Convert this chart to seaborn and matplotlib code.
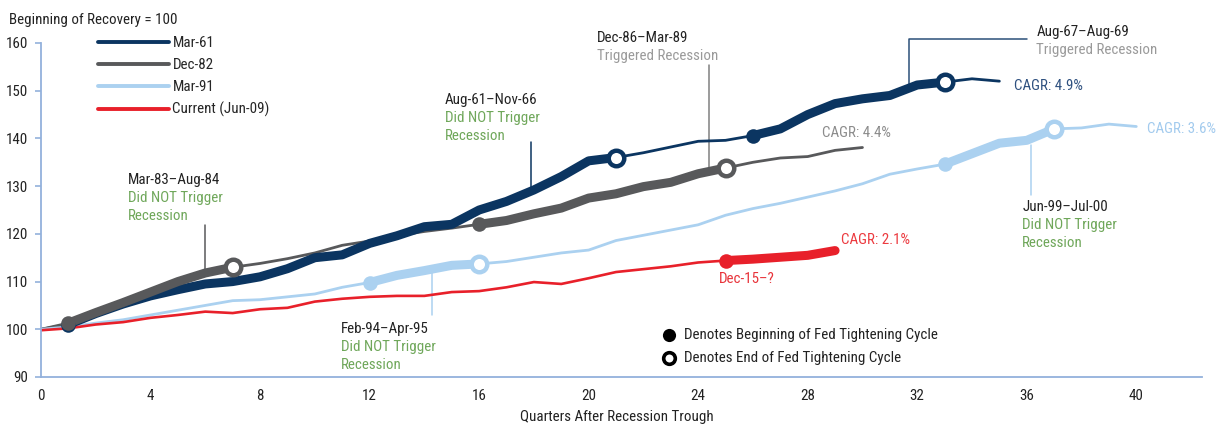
import matplotlib
matplotlib.use("Agg")
import matplotlib.pyplot as plt
from matplotlib import font_manager as fm
import numpy as np
import pandas as pd
import seaborn as sns

# Quarters after recession trough and index levels (Beginning of Recovery = 100)
mar61 = [100, 101, 103.3, 105.3, 107, 108.3, 109.5, 110, 111, 112.7, 115, 115.6,
         118, 119.6, 121.5, 122, 125, 126.8, 129.2, 132, 135.3, 136, 137, 138.2,
         139.4, 139.6, 140.6, 142, 145, 147.3, 148.3, 149, 151.2, 151.8, 152.5, 152]
dec82 = [100, 101.3, 103.5, 105.6, 107.8, 110, 111.8, 113, 113.8, 114.8, 116, 117.6,
         118.5, 119.6, 120.5, 121.2, 122, 122.8, 124.2, 125.4, 127.5, 128.4, 129.9,
         130.8, 132.6, 133.8, 135, 135.9, 136.2, 137.5, 138.1]
mar91 = [100, 100.5, 101.3, 102, 103, 104, 105, 106, 106.2, 106.8, 107.4, 108.8,
         109.8, 111.3, 112.3, 113.4, 113.7, 114.2, 115.1, 116, 116.6, 118.6, 119.7,
         120.8, 121.9, 123.9, 125.3, 126.4, 127.7, 129, 130.5, 132.5, 133.6, 134.6,
         136.8, 139, 139.6, 142, 142.2, 143, 142.5]
current = [99.8, 100.2, 101, 101.5, 102.4, 103, 103.7, 103.4, 104.2, 104.5, 105.8,
           106.4, 106.8, 107, 107, 107.8, 108, 108.8, 109.9, 109.5, 110.7, 112,
           112.6, 113.2, 114, 114.4, 114.7, 115.1, 115.5, 116.5]

series_names = ["Mar-61", "Dec-82", "Mar-91", "Current (Jun-09)"]
series_values = [mar61, dec82, mar91, current]
series_colors = ["#0b3561", "#58595b", "#abd1f0", "#e8202a"]
# Fed tightening cycles (start quarter, end quarter); end None = still running
tightening = [
    [(1, 21), (26, 33)],
    [(1, 7), (16, 25)],
    [(12, 16), (33, 37)],
    [(25, None)],
]

green = "#6fa75a"
grey_txt = "#9a9a9a"
spine_col = "#93b1dc"


def pick_narrow_font():
    # the original uses a condensed face; take one if the machine has it
    cands = [
        ("Liberation Sans Narrow", "normal"),
        ("Roboto Condensed", "normal"),
        ("Noto Sans Condensed", "normal"),
        ("DejaVu Sans Condensed", "normal"),
        ("Noto Sans", "condensed"),
        ("DejaVu Sans", "condensed"),
        ("Open Sans", "condensed"),
        ("Roboto", "condensed"),
    ]
    for fam, st in cands:
        try:
            path = fm.findfont(fm.FontProperties(family=fam, stretch=st),
                               fallback_to_default=False)
        except Exception:
            continue
        low = path.lower()
        if fam.split()[0].lower() in low and ("condensed" in low or "narrow" in low):
            return fam, st
    return None, None


sns.set_theme(style="white")
fam, stretch = pick_narrow_font()
if fam:
    plt.rcParams["font.family"] = [fam, "DejaVu Sans"]
    plt.rcParams["font.stretch"] = stretch
    FS = 10.8
else:
    plt.rcParams["font.family"] = ["DejaVu Sans"]
    FS = 8.6

fig = plt.figure(figsize=(12.23, 4.24), dpi=100)
ax = fig.add_axes([41 / 1223, 47 / 424, 1161 / 1223, 334 / 424])

frames = []
for name, vals in zip(series_names, series_values):
    frames.append(pd.DataFrame({"quarter": np.arange(len(vals)), "value": vals, "series": name}))
df = pd.concat(frames, ignore_index=True)

palette = dict(zip(series_names, series_colors))
thin_lw = {"Mar-61": 2.0, "Dec-82": 2.0, "Mar-91": 2.0, "Current (Jun-09)": 1.9}

# thin full lines
for name in series_names:
    sub = df[df["series"] == name]
    sns.lineplot(data=sub, x="quarter", y="value", color=palette[name],
                 lw=thin_lw[name], ax=ax, label=name, zorder=2)

# thick segments during tightening cycles
for i, name in enumerate(series_names):
    sub = df[df["series"] == name]
    for start, end in tightening[i]:
        stop = sub["quarter"].max() if end is None else end
        seg = sub[(sub["quarter"] >= start) & (sub["quarter"] <= stop)]
        sns.lineplot(data=seg, x="quarter", y="value", color=palette[name],
                     lw=6.5, ax=ax, legend=False, zorder=3,
                     solid_capstyle="round", solid_joinstyle="round")

# begin / end markers
for i, name in enumerate(series_names):
    sub = df[df["series"] == name].set_index("quarter")["value"]
    for start, end in tightening[i]:
        ax.scatter([start], [sub[start]], s=110, color=palette[name], zorder=5, lw=0)
        if end is not None:
            ax.scatter([end], [sub[end]], s=125, facecolor="white",
                       edgecolor=palette[name], lw=3.2, zorder=6)

ax.set_xlim(0, 42.4)
ax.set_ylim(90, 160)
ax.set_xticks(range(0, 41, 4))
ax.set_yticks(range(90, 161, 10))
ax.tick_params(axis="x", length=0, pad=9, labelsize=FS, labelcolor="#222222")
ax.tick_params(axis="y", length=4, width=1.2, color=spine_col, pad=5,
               labelsize=FS, labelcolor="#222222", direction="out", left=True)
for s in ["top", "right"]:
    ax.spines[s].set_visible(False)
for s in ["left", "bottom"]:
    ax.spines[s].set_color(spine_col)
    ax.spines[s].set_linewidth(1.3)
ax.set_xlabel("")
ax.set_ylabel("")
ax.grid(False)

leg = ax.legend(loc="upper left", bbox_to_anchor=(98 / 1223, 1 - 36 / 424),
                bbox_transform=fig.transFigure, frameon=False, fontsize=FS,
                handlelength=4.9 * 10.5 / FS, handletextpad=0.2,
                labelspacing=0.55 * 10.5 / FS, borderpad=0, borderaxespad=0)
for line in leg.get_lines():
    line.set_linewidth(2.8)

fig.text(9 / 1223, 1 - 20 / 424, "Beginning of Recovery = 100", fontsize=FS,
         va="center", ha="left", color="#222222")
fig.text(617 / 1223, 1 - 417 / 424, "Quarters After Recession Trough", fontsize=FS,
         va="center", ha="center", color="#222222")


def note(x, y, head, body, body_col, step=3.8):
    ax.text(x, y, head, fontsize=FS, color="#222222", va="center", ha="left", clip_on=False)
    for k, line in enumerate(body):
        ax.text(x, y - step * (k + 1), line, fontsize=FS, color=body_col,
                va="center", ha="left", clip_on=False)


note(3.18, 131.3, "Mar-83\u2013Aug-84", ["Did NOT Trigger", "Recession"], green)
note(14.74, 148.1, "Aug-61\u2013Nov-66", ["Did NOT Trigger", "Recession"], green)
note(20.3, 161.0, "Dec-86\u2013Mar-89", ["Triggered Recession"], grey_txt)
note(36.35, 162.4, "Aug-67\u2013Aug-69", ["Triggered Recession"], grey_txt)
note(35.84, 125.7, "Jun-99\u2013Jul-00", ["Did NOT Trigger", "Recession"], green)
note(10.95, 100.1, "Feb-94\u2013Apr-95", ["Did NOT Trigger", "Recession"], green)

# connectors from the notes to the lines
ax.plot([6.0, 6.0], [121.8, 112.4], color="#58595b", lw=1.1, zorder=1)
ax.plot([17.9, 17.9], [139.3, 129.2], color="#0b3561", lw=1.1, zorder=1)
ax.plot([24.4, 24.4], [155.4, 133.9], color="#808080", lw=1.1, zorder=1)
ax.plot([31.7, 31.7, 36.0], [151.3, 160.9, 160.9], color="#2b5079", lw=1.1,
        zorder=1, clip_on=False)
ax.plot([36.17, 36.17], [138.7, 128.2], color="#abd1f0", lw=1.1, zorder=1)
ax.plot([14.27, 14.27], [112.9, 103.0], color="#abd1f0", lw=1.1, zorder=1)

ax.text(24.74, 110.6, "Dec-15\u2013?", fontsize=FS, color="#e8333a", va="center")
ax.text(35.55, 151.0, "CAGR: 4.9%", fontsize=FS, color="#2f5180", va="center")
ax.text(28.54, 141.2, "CAGR: 4.4%", fontsize=FS, color="#8c8c8c", va="center")
ax.text(40.4, 142.0, "CAGR: 3.6%", fontsize=FS, color="#a3cbee", va="center",
        clip_on=False)
ax.text(29.2, 118.8, "CAGR: 2.1%", fontsize=FS, color="#ec3b40", va="center")

# marker key
ax.scatter([22.95], [98.9], s=90, color="black", zorder=5, lw=0)
ax.scatter([22.95], [93.9], s=70, facecolor="white", edgecolor="black", lw=2.6, zorder=5)
ax.text(23.5, 98.9, "Denotes Beginning of Fed Tightening Cycle", fontsize=FS,
        color="#222222", va="center")
ax.text(23.5, 93.9, "Denotes End of Fed Tightening Cycle", fontsize=FS,
        color="#222222", va="center")

fig.savefig("out.png", dpi=100)
